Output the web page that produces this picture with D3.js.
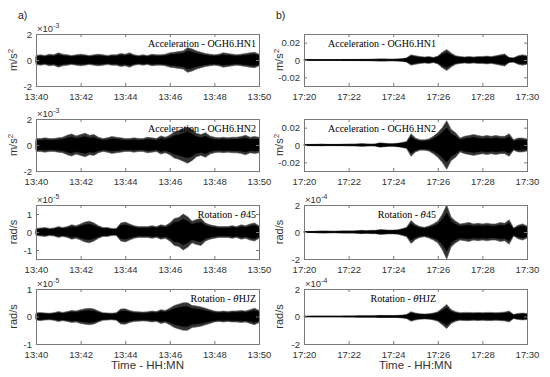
<!DOCTYPE html>
<html>
<head>
<meta charset="utf-8">
<script src="https://cdn.jsdelivr.net/npm/d3@7"></script>
<style>
  body { margin: 0; background: #fff; }
  svg { display: block; }
  .tick text { font-family: "Liberation Sans", Arial, sans-serif; font-size: 9.5px; fill: #333; }
</style>
</head>
<body>
<div id="chart"></div>
<script>
// Sample times (minutes after the window start) for the envelope readings
var sampleMin = [0, 0.2, 0.4, 0.6, 0.8, 1, 1.2, 1.4, 1.6, 1.8, 2, 2.2, 2.4, 2.6, 2.8, 3, 3.2, 3.4, 3.6, 3.8,
  4, 4.2, 4.4, 4.6, 4.8, 5, 5.2, 5.4, 5.6, 5.8, 6, 6.2, 6.4, 6.6, 6.8, 7, 7.2, 7.4, 7.6, 7.8,
  8, 8.2, 8.4, 8.6, 8.8, 9, 9.2, 9.4, 9.6, 9.8, 10];

// a) 13:40 - 13:50 window, envelope amplitude in the panel's scaled units
var hn1A = [0.35, 0.4, 0.35, 0.45, 0.4, 0.55, 0.45, 0.4, 0.35, 0.4, 0.45, 0.4, 0.35, 0.4, 0.45, 0.4, 0.35, 0.4, 0.4, 0.5,
  0.45, 0.55, 0.4, 0.35, 0.4, 0.35, 0.45, 0.4, 0.4, 0.45, 0.55, 0.6, 0.65, 0.7, 0.95, 0.85, 0.7, 0.6, 0.5, 0.45,
  0.4, 0.45, 0.55, 0.5, 0.45, 0.4, 0.45, 0.5, 0.55, 0.6, 0.45];  // x10^-3 m/s^2
var hn2A = [0.5, 0.5, 0.55, 0.5, 0.5, 0.55, 0.6, 0.75, 0.85, 0.7, 0.8, 0.9, 0.75, 0.8, 0.6, 0.5, 0.55, 0.65, 0.6, 0.55,
  0.5, 0.5, 0.55, 0.5, 0.5, 0.6, 0.55, 0.5, 0.7, 0.6, 0.75, 1.0, 1.1, 1.25, 1.4, 1.2, 0.9, 0.8, 0.95, 0.7,
  0.6, 0.55, 0.6, 0.55, 0.6, 0.6, 0.65, 0.75, 0.6, 0.65, 0.6];  // x10^-3 m/s^2
var t45A = [0.2, 0.22, 0.25, 0.2, 0.22, 0.3, 0.25, 0.3, 0.4, 0.35, 0.45, 0.55, 0.6, 0.5, 0.35, 0.25, 0.25, 0.2, 0.2, 0.5,
  0.55, 0.45, 0.35, 0.3, 0.3, 0.3, 0.35, 0.3, 0.4, 0.35, 0.5, 0.75, 0.8, 1.0, 0.85, 0.6, 0.7, 0.75, 0.5, 0.4,
  0.35, 0.3, 0.3, 0.3, 0.35, 0.3, 0.4, 0.35, 0.45, 0.5, 0.35];  // x10^-5 rad/s
var hjzA = [0.13, 0.15, 0.13, 0.12, 0.14, 0.18, 0.15, 0.18, 0.22, 0.2, 0.25, 0.28, 0.3, 0.27, 0.2, 0.14, 0.13, 0.12, 0.14, 0.27,
  0.28, 0.22, 0.18, 0.17, 0.16, 0.17, 0.2, 0.18, 0.25, 0.22, 0.3, 0.4, 0.45, 0.5, 0.5, 0.4, 0.38, 0.35, 0.3, 0.25,
  0.2, 0.18, 0.2, 0.18, 0.2, 0.2, 0.22, 0.2, 0.25, 0.3, 0.22];  // x10^-5 rad/s

// b) 17:20 - 17:30 window
var hn1B = [0.0005, 0.0005, 0.0005, 0.0006, 0.0006, 0.0006, 0.0006, 0.0006, 0.0006, 0.0007, 0.0007, 0.0007, 0.0007, 0.0008, 0.0008,
  0.0009, 0.001, 0.0012, 0.0012, 0.001, 0.001, 0.0012, 0.0015, 0.0025, 0.006, 0.005, 0.004, 0.0035, 0.004, 0.003,
  0.0045, 0.009, 0.012, 0.008, 0.005, 0.004, 0.0035, 0.004, 0.0035, 0.004, 0.004, 0.0045, 0.004, 0.005, 0.006,
  0.007, 0.003, 0.0025, 0.005, 0.006, 0.005];  // m/s^2
var hn2B = [0.0006, 0.0007, 0.0008, 0.0008, 0.001, 0.0008, 0.0008, 0.0008, 0.0008, 0.0009, 0.001, 0.001, 0.0012, 0.0015, 0.0012,
  0.001, 0.0012, 0.0025, 0.002, 0.0015, 0.0015, 0.002, 0.003, 0.004, 0.013, 0.008, 0.006, 0.006, 0.007, 0.01,
  0.014, 0.02, 0.028, 0.018, 0.014, 0.008, 0.01, 0.011, 0.012, 0.011, 0.01, 0.011, 0.01, 0.011, 0.01,
  0.01, 0.013, 0.006, 0.008, 0.008, 0.007];  // m/s^2
var t45B = [0.04, 0.04, 0.05, 0.06, 0.07, 0.07, 0.06, 0.06, 0.07, 0.08, 0.08, 0.08, 0.1, 0.12, 0.1, 0.12, 0.12, 0.18, 0.16, 0.14,
  0.14, 0.16, 0.25, 0.35, 0.85, 0.55, 0.4, 0.35, 0.45, 0.6, 0.8, 1.3, 2.0, 1.1, 0.8, 0.6, 0.65, 0.7, 0.6, 0.65,
  0.6, 0.65, 0.6, 0.6, 0.7, 0.65, 0.9, 0.3, 0.5, 0.6, 0.45];  // x10^-4 rad/s
var hjzB = [0.02, 0.02, 0.03, 0.03, 0.03, 0.03, 0.03, 0.03, 0.03, 0.04, 0.04, 0.04, 0.05, 0.05, 0.05, 0.05, 0.06, 0.08, 0.07, 0.07,
  0.07, 0.08, 0.1, 0.15, 0.35, 0.25, 0.2, 0.18, 0.2, 0.25, 0.35, 0.6, 0.88, 0.5, 0.35, 0.28, 0.3, 0.3, 0.28, 0.3,
  0.28, 0.3, 0.3, 0.28, 0.3, 0.32, 0.4, 0.15, 0.22, 0.25, 0.22];  // x10^-4 rad/s

var windowStart = [new Date(2020, 0, 1, 13, 40), new Date(2020, 0, 1, 17, 20)];
var panelLetters = ["a)", "b)"];
var titles = ["Acceleration - OGH6.HN1", "Acceleration - OGH6.HN2", "Rotation - ", "Rotation - "];
var units = ["m/s", "m/s", "rad/s", "rad/s"];

// per panel: data, y domain, y ticks, exponent
var panels = [
  { col: 0, row: 0, amp: hn1A, dom: [-2, 2], ticks: [-2, 0, 2], exp: "-3" },
  { col: 0, row: 1, amp: hn2A, dom: [-2, 2], ticks: [-2, 0, 2], exp: "-3" },
  { col: 0, row: 2, amp: t45A, dom: [-1.5, 1.5], ticks: [-1, 0, 1], exp: "-5", sub: "45" },
  { col: 0, row: 3, amp: hjzA, dom: [-1, 1], ticks: [-1, 0, 1], exp: "-5", sub: "HJZ" },
  { col: 1, row: 0, amp: hn1B, dom: [-0.03, 0.03], ticks: [-0.02, 0, 0.02], exp: null },
  { col: 1, row: 1, amp: hn2B, dom: [-0.03, 0.03], ticks: [-0.02, 0, 0.02], exp: null },
  { col: 1, row: 2, amp: t45B, dom: [-2, 2], ticks: [-2, 0, 2], exp: "-4", sub: "45" },
  { col: 1, row: 3, amp: hjzB, dom: [-2, 2], ticks: [-2, 0, 2], exp: "-4", sub: "HJZ" }
];

// layout in pixels
var svgWidth = 550;
var svgHeight = 377;
var colX = [[36, 259], [304, 527]];
var rowY = [[34, 86], [119, 171], [205, 259], [289, 344]];
var sans = "'Liberation Sans', Arial, sans-serif";
var serif = "'Liberation Serif', 'Times New Roman', serif";

var svg = d3.select("#chart")
  .append("svg")
  .attr("width", svgWidth)
  .attr("height", svgHeight);

panels.forEach(function(p) {
  var x0 = colX[p.col][0], x1 = colX[p.col][1];
  var y0 = rowY[p.row][0], y1 = rowY[p.row][1];
  var start = windowStart[p.col];

  var x = d3.scaleTime()
    .domain([start, d3.timeMinute.offset(start, 10)])
    .range([x0, x1]);
  var y = d3.scaleLinear().domain(p.dom).range([y1, y0]);

  var g = svg.append("g");

  // waveform envelope: grey outer spikes, black dense core
  var pts = sampleMin.map(function(m, i) {
    return { t: new Date(start.getTime() + m * 60000), a: p.amp[i] };
  });
  var outer = d3.area()
    .x(function(d) { return x(d.t); })
    .y0(function(d) { return y(-d.a); })
    .y1(function(d) { return y(d.a); });
  var core = d3.area()
    .x(function(d) { return x(d.t); })
    .y0(function(d) { return y(-d.a * 0.7); })
    .y1(function(d) { return y(d.a * 0.7); });
  g.append("path")
    .datum(pts)
    .attr("d", outer)
    .attr("fill", "#333")
    .attr("stroke", "#555")
    .attr("stroke-width", 0.6);
  g.append("path")
    .datum(pts)
    .attr("d", core)
    .attr("fill", "#000")
    .attr("stroke", "#000")
    .attr("stroke-width", 0.8);

  // x axis, ticks inside, on bottom and top
  var xTicks = d3.range(0, 11, 2).map(function(m) { return d3.timeMinute.offset(start, m); });
  var xb = g.append("g")
    .attr("transform", "translate(0," + y1 + ")")
    .call(d3.axisBottom(x).tickValues(xTicks).tickFormat(d3.timeFormat("%H:%M"))
      .tickSizeInner(-3).tickSizeOuter(0).tickPadding(7));
  var xt = g.append("g")
    .attr("transform", "translate(0," + y0 + ")")
    .call(d3.axisTop(x).tickValues(xTicks).tickFormat("").tickSizeInner(-3).tickSizeOuter(0));

  // y axis, left with labels, right with ticks only
  var yl = g.append("g")
    .attr("transform", "translate(" + x0 + ",0)")
    .call(d3.axisLeft(y).tickValues(p.ticks).tickFormat(function(v) { return String(v); })
      .tickSizeInner(-3).tickSizeOuter(0).tickPadding(4));
  var yr = g.append("g")
    .attr("transform", "translate(" + x1 + ",0)")
    .call(d3.axisRight(y).tickValues(p.ticks).tickFormat("").tickSizeInner(-3).tickSizeOuter(0));

  [xb, xt, yl, yr].forEach(function(a) {
    a.select(".domain").remove();
    a.selectAll(".tick line").attr("stroke", "#7a7a7a");
  });

  // box
  g.append("rect")
    .attr("x", x0 + 0.5)
    .attr("y", y0 + 0.5)
    .attr("width", x1 - x0)
    .attr("height", y1 - y0)
    .attr("fill", "none")
    .attr("stroke", "#7a7a7a")
    .attr("stroke-width", 1);

  // exponent label
  if (p.exp) {
    var ex = g.append("text")
      .attr("x", x0 + 1)
      .attr("y", y0 - 2)
      .attr("font-family", sans)
      .attr("font-size", "9.5px")
      .attr("fill", "#333");
    ex.append("tspan").text("\u00d710");
    ex.append("tspan").attr("dy", -4).attr("font-size", "7px").text(p.exp);
  }

  // y label
  var yc = (y0 + y1) / 2;
  var lx = p.col === 0 ? 17 : 283;
  var yt = g.append("text")
    .attr("transform", "translate(" + lx + "," + yc + ") rotate(-90)")
    .attr("text-anchor", "middle")
    .attr("font-family", sans)
    .attr("font-size", "11px")
    .attr("fill", "#333");
  yt.append("tspan").text(units[p.row]);
  if (p.row < 2) {
    yt.append("tspan").attr("dy", -4).attr("font-size", "8px").text("2");
  }

  // panel title, theta with combining dot above
  var tt = g.append("text")
    .attr("x", p.col === 0 ? x1 - 3 : 436)
    .attr("y", y0 + 13)
    .attr("text-anchor", "end")
    .attr("font-family", serif)
    .attr("font-size", "10px")
    .attr("fill", "#000");
  tt.append("tspan").text(titles[p.row]);
  if (p.sub) {
    tt.append("tspan")
      .attr("font-family", "'DejaVu Serif', serif")
      .attr("font-style", "italic")
      .attr("font-size", "9px")
      .text("\u03b8\u0307");
    tt.append("tspan").text(p.sub);
  }
});

// panel letters and time axis titles
colX.forEach(function(c, i) {
  svg.append("text")
    .attr("x", i === 0 ? 18 : 276)
    .attr("y", 19)
    .attr("font-family", sans)
    .attr("font-size", "10.5px")
    .attr("fill", "#222")
    .text(panelLetters[i]);

  svg.append("text")
    .attr("x", (c[0] + c[1]) / 2)
    .attr("y", 369)
    .attr("text-anchor", "middle")
    .attr("font-family", sans)
    .attr("font-size", "11.5px")
    .attr("fill", "#333")
    .text("Time - HH:MN");
});
</script>
</body>
</html>
